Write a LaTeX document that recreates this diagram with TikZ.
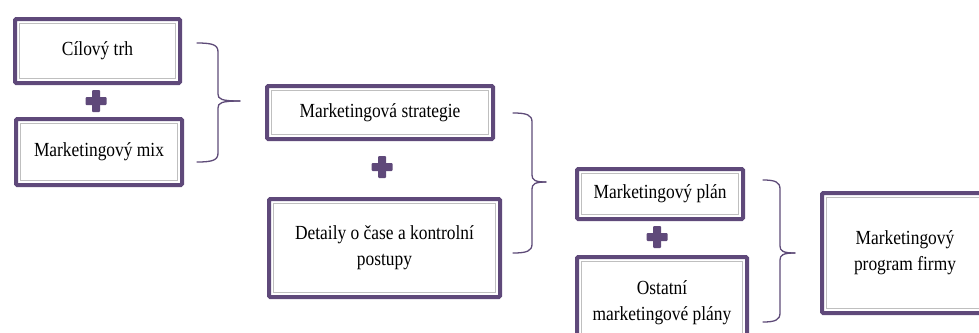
\documentclass[tikz,border=0pt]{standalone}
\usepackage{fontspec}
\setmainfont{Liberation Serif}[FakeStretch=0.87]
\definecolor{frame}{HTML}{5F497A}
\definecolor{innerline}{HTML}{BFBFBF}
\definecolor{bracecol}{HTML}{5E4B78}

\tikzset{
  box/.style={draw=frame, line width=4pt, rounded corners=1.2pt, fill=white,
    anchor=north west, align=center, inner sep=0pt,
    font=\fontsize{20}{26}\selectfont,
    path picture={\draw[innerline, line width=1.1pt, sharp corners]
      ([shift={(4.2pt,-4.2pt)}]path picture bounding box.north west) rectangle
      ([shift={(-4.2pt,4.2pt)}]path picture bounding box.south east);}},
  bracestyle/.style={draw=bracecol, line width=1.3pt, line cap=round},
  pluscol/.style={fill=frame}
}

% curly brace: left x, spine x, tip x, top y, tip y, bottom y
\newcommand\mybrace[7]{%
  \coordinate (#1top) at (#2,#5);
  \coordinate (#1tip) at (#4,#6);
  \coordinate (#1bot) at (#2,#7);
  \draw[bracestyle] (#1top) .. controls ({#3-5},#5) and (#3,{#5+2}) .. (#3,{#5+9})
     -- (#3,{#6-7}) .. controls (#3,{#6-2}) and ({#3+3},#6) .. (#1tip);
  \draw[bracestyle] (#1tip) .. controls ({#3+3},#6) and (#3,{#6+2}) .. (#3,{#6+7})
     -- (#3,{#7-9}) .. controls (#3,{#7-2}) and ({#3-5},#7) .. (#1bot);
}

% plus sign between two boxes
\newcommand\plusmark[3]{%
  \coordinate (#1) at (#2,#3);
  \fill[pluscol, rounded corners=1pt] ([shift={(-10.5,-4)}]#1) rectangle ([shift={(10.5,4)}]#1);
  \fill[pluscol, rounded corners=1pt] ([shift={(-4,-11)}]#1) rectangle ([shift={(4,11)}]#1);
}

\begin{document}
\begin{tikzpicture}[x=1pt, y=-1pt]
  \useasboundingbox (0,0) rectangle (979,332);
  \begin{scope}
  \clip (0,0) rectangle (979,332);

  % first column
  \node[box, minimum width=165pt, minimum height=64pt] (trh) at (13,17) {Cílový trh};
  \node[box, minimum width=166pt, minimum height=66pt] (mix) at (14,117) {Marketingový mix};
  \plusmark{p1}{96}{101}
  \mybrace{br1}{197}{218}{240}{43}{101}{162}

  % second column
  \node[box, minimum width=226pt, minimum height=53pt] (strat) at (265,84) {Marketingová strategie};
  \node[box, minimum width=231pt, minimum height=98pt] (det) at (267,197) {Detaily o čase a kontrolní\\postupy};
  \plusmark{p2}{382}{167}
  \mybrace{br2}{513}{532}{546}{113}{182}{253}

  % third column
  \node[box, minimum width=166pt, minimum height=50pt] (plan) at (575,167) {Marketingový plán};
  \node[box, minimum width=170pt, minimum height=92pt] (ost) at (575,255) {Ostatní\\marketingové plány};
  \plusmark{p3}{657}{237}
  \mybrace{br3}{763}{780}{795}{180}{253}{322}

  % result
  \node[box, minimum width=166pt, minimum height=120pt] (prog) at (820,191) {Marketingový\\program firmy};
  \end{scope}
\end{tikzpicture}
\end{document}
